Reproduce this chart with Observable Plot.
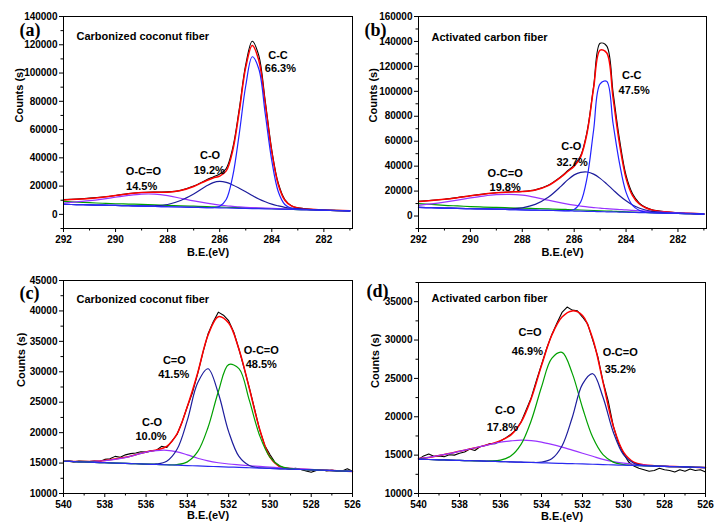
<!DOCTYPE html>
<html><head><meta charset="utf-8">
<script src="https://cdn.jsdelivr.net/npm/d3@7"></script>
<script src="https://cdn.jsdelivr.net/npm/@observablehq/plot@0.6"></script>
<style>
body{margin:0;background:#fff;}
#root{position:relative;width:720px;height:528px;background:#fff;overflow:hidden;}
.panel{position:absolute;}
</style></head>
<body><div id="root"></div>
<script>
// ---------- C 1s energies (panels a, b) ----------
const eC1s = [292,291.5,291,290.5,290,289.5,289,288.5,288,287.5,287,286.5,286.25,286,285.75,285.5,285.25,285,284.75,284.5,284.25,284,283.75,283.5,283.25,283,282.5,282,281.5,281];
// panel (a) Carbonized coconut fiber, C 1s
const rawA     = [10400,10900,11500,12300,13400,14700,15500,15800,15900,17000,20000,24500,26500,28500,32500,47000,74500,106000,122500,112500,80000,45500,22000,10500,6200,4600,3600,3100,2800,2500];
const fitA     = [10100,10700,11250,12150,13300,14600,15450,15700,15700,16850,19700,24000,25750,27100,30750,45200,72650,104000,119500,109000,78000,44000,21000,10000,6000,4500,3550,3100,2800,2550];
const shirleyA = [9200,8700,8250,7850,7500,7300,7000,6700,6300,6050,5800,5500,5350,5200,5050,4900,4750,4600,4450,4300,4150,4000,3850,3700,3550,3400,3200,2900,2700,2500];
const ocoA     = [8000,8900,9700,10800,12100,13400,14300,14300,13200,11400,9500,7900,7200,6600,6100,5700,5300,5000,4800,4600,4400,4200,4000,3850,3700,3550,3300,3000,2750,2550];
const coA      = [7100,6900,6700,6500,6300,6100,5950,6100,7000,9800,14400,20200,22500,23300,22600,20800,18500,16000,13300,10900,8900,7200,6000,5000,4400,4000,3400,3000,2750,2500];
const ccA      = [7100,6900,6700,6500,6300,6100,5900,5700,5400,5200,5000,4800,4800,5800,10500,27000,57000,91000,111500,103000,71000,38000,16000,7000,4300,3600,3250,2900,2700,2500];
const baseA    = [7100,6900,6700,6500,6300,6100,5900,5700,5400,5200,5000,4800,4700,4600,4500,4400,4300,4200,4100,4000,3900,3800,3700,3600,3500,3400,3200,2900,2700,2500];
// panel (b) Activated carbon fiber, C 1s
const rawB     = [11900,12600,13500,14800,16300,17600,18700,19300,19700,21000,24700,31800,36300,40800,48300,68000,104000,138500,136500,99000,61000,32500,17800,10600,7000,5000,3400,2500,2100,1700];
const fitB     = [11600,12400,13400,14700,16200,17500,18600,19250,19600,20850,24400,31300,35700,40000,47450,66850,102750,133000,131000,94450,57500,30200,16300,9800,6650,4900,3350,2500,2100,1700];
const shirleyB = [9900,9300,8600,8100,7600,7200,6900,6550,6300,5950,5700,5400,5200,5000,4850,4650,4450,4250,4050,3850,3600,3400,3200,3000,2850,2700,2350,2100,1900,1600];
const ocoB     = [8600,9800,11200,12800,14500,16000,17100,17400,16700,15000,12700,10500,9500,8700,8000,7300,6800,6300,5900,5500,5200,4900,4500,4200,3900,3600,3000,2500,2100,1700];
const coB      = [6900,6700,6400,6200,5900,5700,5600,5700,6600,9300,15000,24000,29000,33000,35000,35300,33600,30200,25800,21000,16300,12200,8800,6400,4800,3700,2600,2100,1900,1600];
const ccB      = [6900,6700,6400,6200,5900,5700,5500,5200,5000,4700,4500,4300,4300,5300,11300,31000,69000,106000,108000,74000,42000,19000,8500,4600,3200,2700,2300,2100,1900,1600];
const baseB    = [6900,6700,6400,6200,5900,5700,5500,5200,5000,4700,4500,4300,4100,4000,3900,3800,3700,3500,3400,3300,3200,3100,2900,2800,2700,2600,2300,2100,1900,1600];

// ---------- O 1s energies (panels c, d) ----------
const eO1s = [540,539.5,539,538.5,538,537.5,537,536.5,536,535.5,535,534.5,534,533.5,533,532.5,532,531.5,531,530.5,530,529.5,529,528.5,528,527.5,527,526.5,526];
const eO1sRaw = [540,539.75,539.5,539.25,539,538.75,538.5,538.25,538,537.75,537.5,537.25,537,536.75,536.5,536.25,536,535.75,535.5,535.25,535,534.75,534.5,534.25,534,533.75,533.5,533.25,533,532.75,532.5,532.25,532,531.75,531.5,531.25,531,530.75,530.5,530.25,530,529.75,529.5,529.25,529,528.75,528.5,528.25,528,527.75,527.5,527.25,527,526.75,526.5,526.25,526];
// panel (c) Carbonized coconut fiber, O 1s
const rawC  = [15250,15350,15200,15350,15300,15250,15350,15250,15600,15700,16100,15950,16350,16550,16650,16850,16800,17000,17100,17750,17550,18600,19700,21800,24300,26600,29700,33100,36200,38200,39800,39300,38400,36500,33700,30600,27400,24000,20500,17900,16400,15100,14300,14100,14000,14150,13950,13700,13500,13800,13900,13700,13850,13700,13700,14050,13650];
const fitC  = [15300,15270,15250,15300,15420,15650,15950,16380,16830,17150,17750,19800,24300,29800,36000,39050,38000,33700,27300,20600,16000,14400,14100,14000,13920,13850,13780,13700,13630];
const coC   = [15300,15260,15240,15280,15380,15600,15900,16350,16800,17050,17100,16850,16350,15800,15350,15050,14850,14700,14560,14450,14330,14230,14130,14040,13950,13870,13790,13720,13650];
const dblC  = [15300,15240,15180,15120,15060,15000,14950,14890,14830,14860,15300,17260,22050,28190,30500,26470,20170,16090,14590,14230,14120,14060,14000,13940,13880,13820,13760,13700,13640];
const ocoC  = [15300,15240,15180,15120,15060,15000,14950,14890,14830,14770,14720,14760,15200,16870,20850,26730,31180,30530,25340,19540,15960,14500,14080,13940,13880,13820,13760,13700,13640];
const baseC = [15300,15240,15180,15120,15060,15000,14950,14890,14830,14770,14710,14650,14590,14530,14470,14410,14350,14290,14230,14180,14120,14060,14000,13940,13880,13820,13760,13700,13640];
// panel (d) Activated carbon fiber, O 1s
const rawD  = [14450,14900,15150,14850,14900,14800,15050,15000,15250,15400,15800,15600,16100,16250,16500,16500,16850,17250,17700,18300,19300,20900,22500,24700,26800,28900,30700,32200,33600,34300,33900,33800,33000,32100,30000,27800,24600,22100,18800,16600,15200,14100,13600,13300,13100,12900,13000,13300,13100,13000,12800,13100,12900,13200,13000,13100,12800];
const fitD  = [14550,14700,14950,15200,15500,15800,16100,16440,16890,17610,19270,22380,26670,30620,33000,33800,33200,30160,24520,18800,15400,14100,13740,13620,13560,13510,13470,13420,13380];
const coD   = [14550,14700,14950,15200,15500,15800,16100,16400,16700,16850,16950,16900,16700,16400,16050,15650,15250,14850,14450,14150,13950,13800,13700,13620,13560,13510,13470,13420,13380];
const dblD  = [14470,14430,14390,14350,14310,14280,14240,14240,14350,14880,16400,19510,23880,27610,28400,25660,21180,17320,15060,14090,13770,13660,13610,13570,13530,13500,13460,13420,13380];
const ocoD  = [14470,14430,14390,14350,14310,14280,14240,14200,14160,14120,14080,14050,14090,14530,16200,19900,24250,25610,22550,18020,15060,13940,13650,13570,13530,13500,13460,13420,13380];
const baseD = [14470,14430,14390,14350,14310,14280,14240,14200,14160,14120,14080,14040,14000,13960,13920,13890,13850,13810,13770,13730,13690,13650,13610,13570,13530,13500,13460,13420,13380];

// ---------- tick values ----------
const ticksC1sMajor = [292,290,288,286,284,282];
const ticksC1sMinor = [291,289,287,285,283,281];
const ticksO1sMajor = [540,538,536,534,532,530,528,526];
const ticksO1sMinor = [539,537,535,533,531,529,527];
const ticksYA = [0,20000,40000,60000,80000,100000,120000,140000];
const ticksYAminor = [-10000,10000,30000,50000,70000,90000,110000,130000];
const ticksYB = [0,20000,40000,60000,80000,100000,120000,140000,160000];
const ticksYBminor = [-10000,10000,30000,50000,70000,90000,110000,130000,150000];
const ticksYC = [10000,15000,20000,25000,30000,35000,40000,45000];
const ticksYCminor = [12500,17500,22500,27500,32500,37500,42500];
const ticksYD = [10000,15000,20000,25000,30000,35000];
const ticksYDminor = [12500,17500,22500,27500,32500,37500];

// ---------- peak annotations ----------
const notesA = [{t:"C-C",x:283.76,y:112300},{t:"66.3%",x:283.67,y:103300},{t:"C-O",x:286.37,y:41900},{t:"19.2%",x:286.4,y:31200},{t:"O-C=O",x:288.93,y:30000},{t:"14.5%",x:289.0,y:19400}];
const notesB = [{t:"C-C",x:283.78,y:113100},{t:"47.5%",x:283.69,y:101000},{t:"C-O",x:286.11,y:55500},{t:"32.7%",x:286.08,y:42900},{t:"O-C=O",x:288.66,y:34000},{t:"19.8%",x:288.66,y:22800}];
const notesC = [{t:"C=O",x:534.63,y:31830},{t:"41.5%",x:534.66,y:29640},{t:"O-C=O",x:530.42,y:33480},{t:"48.5%",x:530.42,y:31180},{t:"C-O",x:535.71,y:21690},{t:"10.0%",x:535.76,y:19430}];
const notesD = [{t:"C=O",x:534.56,y:30960},{t:"46.9%",x:534.69,y:28570},{t:"O-C=O",x:530.16,y:28440},{t:"35.2%",x:530.16,y:26190},{t:"C-O",x:535.78,y:20760},{t:"17.8%",x:535.91,y:18590}];

const COL = {raw:"#000000", fit:"#ff0000", green:"#00a000", purple:"#9933ff", navy:"#1c1c9c", blue:"#2222ff", base:"#2b2bf0"};
const SANS = "'Liberation Sans', Arial, sans-serif";

function rows(xs, ys){ return xs.map((x,i)=>({x, y: ys[i]})); }

function panel(o){
  const marks = [];
  for (const c of o.curves){
    marks.push(Plot.line(rows(c.x, c.y), {x:"x", y:"y", stroke:c.color, strokeWidth:c.w || 1.2, curve:c.curve || "catmull-rom"}));
  }
  marks.push(Plot.frame({stroke:"#000", strokeWidth:1}));
  marks.push(Plot.axisX({ticks:o.xMajor, tickSize:4, tickPadding:3, tickFormat:d=>String(d), label:null, fontSize:10, fontWeight:"bold"}));
  marks.push(Plot.axisX({ticks:o.xMinor, tickSize:2.5, tickFormat:()=>"", label:null}));
  marks.push(Plot.axisY({ticks:o.yMajor, tickSize:4, tickPadding:2, tickFormat:d=>String(d), label:null, fontSize:10, fontWeight:"bold"}));
  marks.push(Plot.axisY({ticks:o.yMinor, tickSize:2.5, tickFormat:()=>"", label:null}));
  marks.push(Plot.text(o.notes, {x:"x", y:"y", text:"t", fontSize:11, fontWeight:"bold", fill:"#000"}));
  marks.push(Plot.text([o.title], {frameAnchor:"top-left", lineAnchor:"middle", dx:13, dy:o.titleDy, textAnchor:"start", fontSize:11, fontWeight:"bold", fill:"#000"}));
  marks.push(Plot.text(["Counts (s)"], {frameAnchor:"left", lineAnchor:"middle", dx:o.yLabelDx, rotate:-90, fontSize:11, fontWeight:"bold", fill:"#000"}));
  marks.push(Plot.text(["B.E.(eV)"], {frameAnchor:"bottom", lineAnchor:"middle", dy:o.xLabelDy, fontSize:11, fontWeight:"bold", fill:"#000"}));
  marks.push(Plot.text([o.tag], {frameAnchor:"top-left", lineAnchor:"middle", dx:o.tagDx, dy:o.tagDy, fontFamily:"'Liberation Serif', 'Times New Roman', serif", fontSize:18, fontWeight:"bold", fill:"#000"}));
  const svg = Plot.plot({
    width:360, height:264,
    marginLeft:63, marginRight:o.mr, marginTop:o.mt, marginBottom:o.mb,
    x:{domain:o.xDomain, label:null},
    y:{domain:o.yDomain, label:null},
    style:{fontFamily:SANS, fontWeight:"bold", fontSize:"10px", color:"#000", background:"transparent", overflow:"visible"},
    marks
  });
  const div = document.createElement("div");
  div.className = "panel";
  div.style.left = o.left + "px";
  div.style.top = o.top + "px";
  div.appendChild(svg);
  document.getElementById("root").appendChild(div);
}

panel({left:0, top:0, mt:16, mb:36, mr:8, xDomain:[292,280.9], yDomain:[-10000,140000],
  xMajor:ticksC1sMajor, xMinor:ticksC1sMinor, yMajor:ticksYA, yMinor:ticksYAminor,
  notes:notesA, title:"Carbonized coconut fiber", titleDy:20, yLabelDx:-44, xLabelDy:24, tag:"(a)", tagDx:-44, tagDy:14,
  curves:[
    {x:eC1s, y:rawA, color:COL.raw, w:1.1},
    {x:eC1s, y:fitA, color:COL.fit, w:1.5},
    {x:eC1s, y:shirleyA, color:COL.green},
    {x:eC1s, y:ocoA, color:COL.purple},
    {x:eC1s, y:coA, color:COL.navy},
    {x:eC1s, y:ccA, color:COL.blue},
    {x:eC1s, y:baseA, color:COL.base}
  ]});

panel({left:355, top:0, mt:16, mb:36, mr:9, xDomain:[292,280.9], yDomain:[-10000,160000],
  xMajor:ticksC1sMajor, xMinor:ticksC1sMinor, yMajor:ticksYB, yMinor:ticksYBminor,
  notes:notesB, title:"Activated carbon fiber", titleDy:20.5, yLabelDx:-45, xLabelDy:24, tag:"(b)", tagDx:-54, tagDy:14,
  curves:[
    {x:eC1s, y:rawB, color:COL.raw, w:1.1},
    {x:eC1s, y:fitB, color:COL.fit, w:1.5},
    {x:eC1s, y:shirleyB, color:COL.green},
    {x:eC1s, y:ocoB, color:COL.purple},
    {x:eC1s, y:coB, color:COL.navy},
    {x:eC1s, y:ccB, color:COL.blue},
    {x:eC1s, y:baseB, color:COL.base}
  ]});

panel({left:0, top:264, mt:16, mb:35, mr:8, xDomain:[540,526], yDomain:[10000,45000],
  xMajor:ticksO1sMajor, xMinor:ticksO1sMinor, yMajor:ticksYC, yMinor:ticksYCminor,
  notes:notesC, title:"Carbonized coconut fiber", titleDy:18.5, yLabelDx:-42, xLabelDy:22, tag:"(c)", tagDx:-44, tagDy:13,
  curves:[
    {x:eO1sRaw, y:rawC, color:COL.raw, w:1.1, curve:"linear"},
    {x:eO1s, y:fitC, color:COL.fit, w:1.5},
    {x:eO1s, y:coC, color:COL.purple},
    {x:eO1s, y:dblC, color:COL.navy},
    {x:eO1s, y:ocoC, color:COL.green},
    {x:eO1s, y:baseC, color:COL.base}
  ]});

panel({left:355, top:264, mt:18, mb:35, mr:10, xDomain:[540,526], yDomain:[10000,37500],
  xMajor:ticksO1sMajor, xMinor:ticksO1sMinor, yMajor:ticksYD, yMinor:ticksYDminor,
  notes:notesD, title:"Activated carbon fiber", titleDy:15.5, yLabelDx:-43, xLabelDy:23, tag:"(d)", tagDx:-52, tagDy:9,
  curves:[
    {x:eO1sRaw, y:rawD, color:COL.raw, w:1.1, curve:"linear"},
    {x:eO1s, y:fitD, color:COL.fit, w:1.5},
    {x:eO1s, y:coD, color:COL.purple},
    {x:eO1s, y:dblD, color:COL.green},
    {x:eO1s, y:ocoD, color:COL.navy},
    {x:eO1s, y:baseD, color:COL.base}
  ]});
</script>
</body></html>
